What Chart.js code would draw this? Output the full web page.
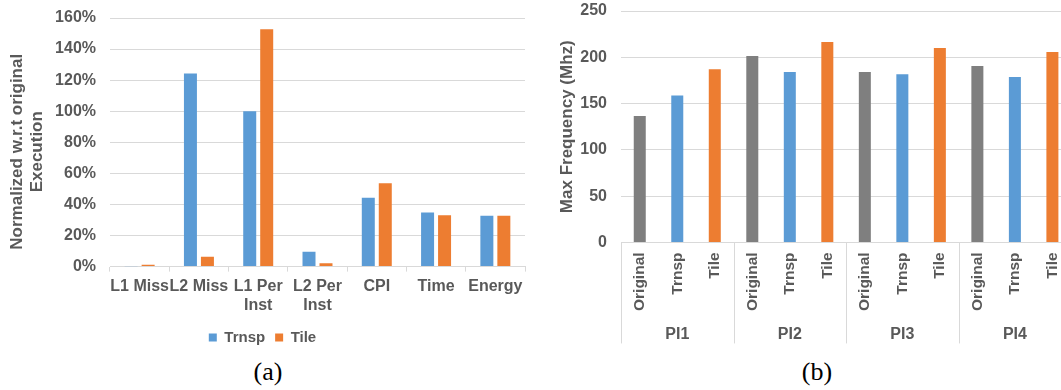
<!DOCTYPE html>
<html>
<head>
<meta charset="utf-8">
<script src="https://cdn.jsdelivr.net/npm/chart.js@4.4.1/dist/chart.umd.min.js"></script>
<style>
  html, body { margin: 0; padding: 0; overflow: hidden; background: #fff; width: 1061px; height: 390px; }
  #left { position: absolute; left: 0; top: 0; }
  #right { position: absolute; left: 540px; top: 0; }
  .cap { position: absolute; width: 80px; text-align: center; font-family: 'Liberation Serif', 'Times New Roman', serif; font-size: 26px; line-height: 30px; color: #000; }
</style>
</head>
<body>
<canvas id="left" width="535" height="355"></canvas>
<canvas id="right" width="541" height="352"></canvas>
<div class="cap" style="left:228px; top:357px;">(a)</div>
<div class="cap" style="left:777px; top:357px;">(b)</div>
<script>
// ======== Data: chart (a) ========
const metrics = ['L1 Miss', 'L2 Miss', ['L1 Per', 'Inst'], ['L2 Per', 'Inst'], 'CPI', 'Time', 'Energy'];
const trnspNorm = [0.3, 124.3, 100, 9.6, 44.3, 34.8, 32.7];
const tileNorm = [1.2, 6.3, 152.7, 2.1, 53.7, 33.1, 32.7];
const pctTicks = [0, 20, 40, 60, 80, 100, 120, 140, 160];

// ======== Data: chart (b) ========
const groups = ['PI1', 'PI2', 'PI3', 'PI4'];
const variants = ['Original', 'Trnsp', 'Tile'];
const freqOriginal = [136.5, 201.3, 184, 190.5];
const freqTrnsp = [158.8, 184, 181.8, 178.6];
const freqTile = [187.2, 216.5, 210, 205.6];
const freqTicks = [0, 50, 100, 150, 200, 250];

const BLUE = '#5b9bd5', ORANGE = '#ed7d31', GRAY = '#7f7f7f';
const TEXT = '#595959', GRID = '#d9d9d9';

Chart.defaults.font.family = "'Liberation Sans', Arial, sans-serif";
Chart.defaults.color = TEXT;
Chart.defaults.animation = false;

// ======== Chart (a): normalized metrics ========
new Chart(document.getElementById('left'), {
    type: 'bar',
    data: {
        labels: metrics,
        datasets: [
            { label: 'Trnsp', data: trnspNorm, backgroundColor: BLUE, barPercentage: 0.765, categoryPercentage: 0.573 },
            { label: 'Tile', data: tileNorm, backgroundColor: ORANGE, barPercentage: 0.765, categoryPercentage: 0.573 }
        ]
    },
    options: {
        responsive: false,
        layout: { padding: { top: 18, right: 10, left: 0, bottom: 0 } },
        plugins: {
            tooltip: { enabled: false },
            legend: {
                position: 'bottom',
                labels: { boxWidth: 8, boxHeight: 8, padding: 10, color: TEXT, font: { size: 15, weight: 'bold' } }
            }
        },
        scales: {
            x: {
                grid: { drawOnChartArea: false, tickLength: 5, color: GRID },
                border: { color: GRID },
                ticks: { maxRotation: 0, autoSkip: false, padding: 5, color: TEXT, font: { size: 16, weight: 'bold' } }
            },
            y: {
                min: pctTicks[0],
                max: pctTicks[pctTicks.length - 1],
                afterBuildTicks: (s) => { s.ticks = pctTicks.map(v => ({ value: v })); },
                afterFit: (s) => { s.width = 110; },
                // invisible tick marks give the gap between labels and plot
                grid: { color: GRID, drawTicks: true, tickLength: 14, tickColor: 'rgba(0,0,0,0)' },
                border: { display: false },
                ticks: { padding: 0, color: TEXT, font: { size: 16, weight: 'bold' }, callback: v => v + '%' },
                title: {
                    display: true,
                    text: ['Normalized w.r.t original\u00a0\u00a0\u00a0\u00a0', 'Execution\u00a0\u00a0\u00a0\u00a0'],
                    color: TEXT,
                    padding: { top: 7, bottom: 0 },
                    font: { size: 17, weight: 'bold' }
                }
            }
        }
    }
});

// ======== Chart (b): max frequency per program ========
const freqLabels = [];
const freqValues = [];
const freqColors = [];
const variantColor = { Original: GRAY, Trnsp: BLUE, Tile: ORANGE };
groups.forEach((g, i) => {
    const vals = [freqOriginal[i], freqTrnsp[i], freqTile[i]];
    variants.forEach((v, j) => {
        freqLabels.push(v);
        freqValues.push(vals[j]);
        freqColors.push(variantColor[v]);
    });
});

// draws the group row (PI1..PI4) and its separators under the x axis
const groupAxis = {
    id: 'groupAxis',
    afterDraw(chart) {
        const { ctx, chartArea, scales: { x } } = chart;
        const step = x.getPixelForValue(1) - x.getPixelForValue(0);
        ctx.save();
        ctx.strokeStyle = GRID;
        ctx.lineWidth = 1;
        for (let g = 0; g <= groups.length; g++) {
            const px = Math.round(x.getPixelForValue(g * variants.length) - step / 2) + 0.5;
            ctx.beginPath();
            ctx.moveTo(px, chartArea.bottom);
            ctx.lineTo(px, chartArea.bottom + 101);
            ctx.stroke();
        }
        ctx.fillStyle = TEXT;
        ctx.font = "bold 16px 'Liberation Sans', Arial, sans-serif";
        ctx.textAlign = 'center';
        ctx.textBaseline = 'middle';
        groups.forEach((name, g) => {
            ctx.fillText(name, x.getPixelForValue(g * variants.length + 1), chartArea.bottom + 92);
        });
        ctx.restore();
    }
};

new Chart(document.getElementById('right'), {
    type: 'bar',
    data: {
        labels: freqLabels,
        datasets: [{ label: 'Max Frequency', data: freqValues, backgroundColor: freqColors, barPercentage: 0.32, categoryPercentage: 1 }]
    },
    options: {
        responsive: false,
        layout: { padding: { top: 11, right: 0, left: 0, bottom: 31 } },
        plugins: { legend: { display: false }, tooltip: { enabled: false } },
        scales: {
            x: {
                grid: { display: false, drawTicks: false },
                border: { color: GRID },
                ticks: { minRotation: 90, maxRotation: 90, autoSkip: false, padding: 10, color: TEXT, font: { size: 15.5, weight: 'bold' } }
            },
            y: {
                min: freqTicks[0],
                max: freqTicks[freqTicks.length - 1],
                afterBuildTicks: (s) => { s.ticks = freqTicks.map(v => ({ value: v })); },
                afterFit: (s) => { s.width = 81; },
                grid: { color: GRID, drawTicks: true, tickLength: 14, tickColor: 'rgba(0,0,0,0)' },
                border: { display: false },
                ticks: { padding: 0, color: TEXT, font: { size: 16, weight: 'bold' } },
                title: {
                    display: true,
                    text: 'Max Frequency (Mhz)',
                    color: TEXT,
                    padding: { top: 17, bottom: 0 },
                    font: { size: 17, weight: 'bold' }
                }
            }
        }
    },
    plugins: [groupAxis]
});
</script>
</body>
</html>
